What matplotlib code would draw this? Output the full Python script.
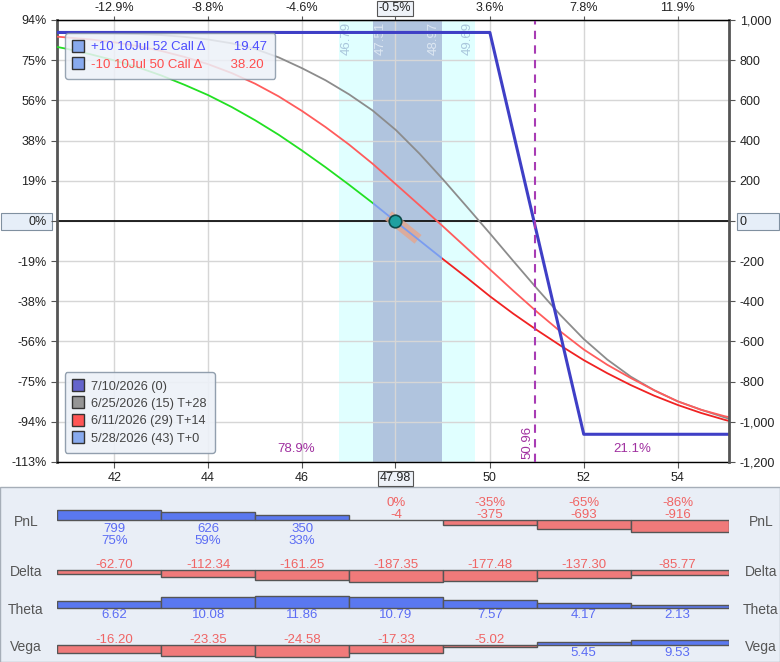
import matplotlib
matplotlib.use('Agg')
import matplotlib.pyplot as plt
from matplotlib.lines import Line2D
from matplotlib.patches import Rectangle

plt.rcParams['font.family'] = ['Liberation Sans', 'DejaVu Sans']

# ---------------- data ----------------
prices = [40.78, 41.0, 41.5, 42.0, 42.5, 43.0, 43.5, 44.0, 44.5, 45.0, 45.5, 46.0, 46.5,
          47.0, 47.5, 48.0, 48.5, 49.0, 49.5, 50.0, 50.5, 51.0, 51.5, 52.0, 52.5, 53.0,
          53.5, 54.0, 54.5, 55.0, 55.10]
t0_pnl = [866, 856, 829, 799, 765, 724, 677, 626, 567, 501, 429, 350, 267,
          180, 90, -4, -97, -190, -281, -375, -462, -543, -620, -693, -758, -817,
          -870, -916, -956, -990, -996]
t14_pnl = [917, 913, 903, 889, 870, 846, 816, 780, 736, 683, 620, 547, 467,
           380, 285, 182, 78, -27, -134, -241, -348, -452, -550, -640, -716, -782,
           -843, -898, -940, -972, -977]
t28_pnl = [937, 936, 935, 933, 930, 925, 916, 903, 884, 856, 814, 760, 700,
           630, 550, 452, 335, 207, 73, -62, -200, -336, -468, -588, -690, -775,
           -843, -898, -940, -978, -985]
exp_price = [40.78, 50.0, 52.0, 55.10]
exp_pnl = [938, 938, -1062, -1062]

current_price = 47.98
current_delta = -187.35
band_outer = (46.79, 49.69)
band_inner = (47.51, 48.97)
breakeven = 50.96
prob_below = '78.9%'
prob_above = '21.1%'

x_ticks = [42, 44, 46, 47.98, 50, 52, 54]
x_tick_labels = ['42', '44', '46', '47.98', '50', '52', '54']
top_tick_labels = ['-12.9%', '-8.8%', '-4.6%', '-0.5%', '3.6%', '7.8%', '11.9%']
y_ticks = [1000, 800, 600, 400, 200, 0, -200, -400, -600, -800, -1000, -1200]
y_pct_labels = ['94%', '75%', '56%', '38%', '19%', '0%', '-19%', '-38%', '-56%',
                '-75%', '-94%', '-113%']
y_right_labels = ['1,000', '800', '600', '400', '200', '0', '-200', '-400', '-600',
                  '-800', '-1,000', '-1,200']

pos_labels = ['+10 10Jul 52 Call \u0394        19.47', '-10 10Jul 50 Call \u0394        38.20']
date_labels = ['7/10/2026 (0)', '6/25/2026 (15) T+28', '6/11/2026 (29) T+14',
               '5/28/2026 (43) T+0']

table_prices = [42, 44, 46, 48, 50, 52, 54]
pnl_vals = [799, 626, 350, -4, -375, -693, -916]
pnl_pcts = ['75%', '59%', '33%', '0%', '-35%', '-65%', '-86%']
delta_vals = [-62.70, -112.34, -161.25, -187.35, -177.48, -137.30, -85.77]
theta_vals = [6.62, 10.08, 11.86, 10.79, 7.57, 4.17, 2.13]
vega_vals = [-16.20, -23.35, -24.58, -17.33, -5.02, 5.45, 9.53]

# ---------------- figure ----------------
W, H = 780, 662
fig = plt.figure(figsize=(W / 100, H / 100), dpi=100, facecolor='white')

def fx(px):
    return px / W

def fy(py):
    return 1 - py / H

# bottom panel background
fig.patches.append(Rectangle((0, 0), 1, 175 / H, transform=fig.transFigure,
                             fc='#e9eef6', ec='#a6aeb8', lw=1, zorder=-2))
# highlight boxes for 0 labels
fig.patches.append(Rectangle((fx(1), fy(230)), fx(51), 17 / H, transform=fig.transFigure,
                             fc='#e6eef8', ec='#8090a0', lw=0.8, zorder=-1))
fig.patches.append(Rectangle((fx(737), fy(230)), fx(42), 17 / H, transform=fig.transFigure,
                             fc='#e6eef8', ec='#8090a0', lw=0.8, zorder=-1))

ax = fig.add_axes([fx(57), fy(462), fx(672.3), 442 / H])
xlim = (prices[0], prices[-1])
ylim = (-1200, 1000)
ax.set_xlim(xlim)
ax.set_ylim(ylim)
ax.set_axisbelow(True)

ax.axvspan(*band_outer, color='#e0ffff', lw=0, zorder=0.1)
ax.axvspan(*band_inner, color='#b0c4de', lw=0, zorder=0.2)

ax.set_xticks(x_ticks)
ax.set_xticklabels(x_tick_labels)
ax.set_yticks(y_ticks)
ax.set_yticklabels(y_pct_labels)
ax.grid(True, color='#d6d6d6', lw=1)

ax.axhline(0, color='black', lw=1.2, zorder=2)

ax.plot(prices, t28_pnl, color='#8c8c8c', lw=1.3, zorder=3)
ax.plot(prices, t14_pnl, color='#ff5c5c', lw=1.3, zorder=3)

tx = [current_price - 0.14, current_price + 0.49]
ty = [current_delta * (x - current_price) for x in tx]
ax.plot(tx, ty, color='#e6a58c', lw=8, alpha=0.8, solid_capstyle='butt', zorder=3.2)

segs = [(xlim[0], band_inner[0], '#22e022'),
        (band_inner[0], band_inner[1], '#7a9cf0'),
        (band_inner[1], xlim[1], '#f02222')]
for x0, x1, c in segs:
    ln, = ax.plot(prices, t0_pnl, color=c, lw=1.3, zorder=3.5)
    ln.set_clip_path(Rectangle((x0, -5000), x1 - x0, 10000, transform=ax.transData))

ax.plot(exp_price, exp_pnl, color='#3f3fc6', lw=2.2, zorder=4)
ax.axvline(breakeven, color='#a83cb4', ls=(0, (4, 3)), lw=1.5, zorder=4)
ax.plot([current_price], [0], 'o', ms=9, mfc='#1fa0a0', mec='#0d4a4a', mew=1.2, zorder=6)

# band labels
lab_kw = dict(rotation=90, fontsize=9.5, va='top', zorder=2)
ax.text(band_outer[0] + 0.03, 990, f'{band_outer[0]:.2f}', ha='left', color='#a9c6dc', **lab_kw)
ax.text(band_inner[0] + 0.03, 990, f'{band_inner[0]:.2f}', ha='left', color='#dde7f2', **lab_kw)
ax.text(band_inner[1] - 0.03, 990, f'{band_inner[1]:.2f}', ha='right', color='#dde7f2', **lab_kw)
ax.text(band_outer[1] - 0.03, 990, f'{band_outer[1]:.2f}', ha='right', color='#a9c6dc', **lab_kw)
ax.text(breakeven - 0.04, -1185, f'{breakeven:.2f}', rotation=90, ha='right', va='bottom',
        fontsize=9.5, color='#a030a0')
ax.text(45.87, -1135, prob_below, ha='center', va='center', fontsize=9.5, color='#a030a0')
ax.text(53.03, -1135, prob_above, ha='center', va='center', fontsize=9.5, color='#a030a0')

# spines / ticks
for s in ['top', 'bottom']:
    ax.spines[s].set_color('black')
    ax.spines[s].set_linewidth(1)
ax.spines['left'].set_color('#555555')
ax.spines['left'].set_linewidth(2)
ax.spines['right'].set_visible(False)
ax.tick_params(axis='both', labelsize=9, length=4, color='#555555', labelcolor='#222222')

axr = ax.twinx()
axr.set_ylim(ylim)
axr.set_yticks(y_ticks)
axr.set_yticklabels(y_right_labels)
axr.tick_params(axis='y', labelsize=9, length=4, color='#555555', labelcolor='#222222')
for s in ['top', 'bottom', 'left']:
    axr.spines[s].set_visible(False)
axr.spines['right'].set_color('#555555')
axr.spines['right'].set_linewidth(2)

axt = ax.twiny()
axt.set_xlim(xlim)
axt.set_xticks(x_ticks)
axt.set_xticklabels(top_tick_labels)
axt.tick_params(axis='x', labelsize=9, length=3, color='#555555', labelcolor='#222222', pad=1)
for s in ['bottom', 'left', 'right']:
    axt.spines[s].set_visible(False)

box = dict(boxstyle='square,pad=0.15', fc='#eef2f8', ec='#555555', lw=0.8)
ax.get_xticklabels()[3].set_bbox(box)
axt.get_xticklabels()[3].set_bbox(box)

# legends
h_pos = [Line2D([], [], marker='s', ls='none', ms=8, mfc='#88aaee', mec='#333333', mew=1)
         for _ in pos_labels]
leg1 = axt.legend(h_pos, pos_labels, loc='upper left', bbox_to_anchor=(0.002, 0.985),
                  fontsize=9.5, handlelength=0.8, handletextpad=0.6, borderpad=0.6,
                  labelspacing=0.4, facecolor='#edf1f8', edgecolor='#8796a6',
                  framealpha=0.85, fancybox=True)
leg1.get_texts()[0].set_color('#4d4dff')
leg1.get_texts()[1].set_color('#ff4d4d')
axt.add_artist(leg1)

date_colors = ['#6464cc', '#959595', '#ff5555', '#88aaee']
h_dates = [Line2D([], [], marker='s', ls='none', ms=8, mfc=c, mec='#333333', mew=1)
           for c in date_colors]
leg2 = axt.legend(h_dates, date_labels, loc='lower left', bbox_to_anchor=(0.002, 0.006),
                  fontsize=9.2, handlelength=0.8, handletextpad=0.6, borderpad=0.65,
                  labelspacing=0.42, facecolor='#edf1f8', edgecolor='#8796a6',
                  framealpha=0.9, fancybox=True)
for t in leg2.get_texts():
    t.set_color('#444444')

# ---------------- bottom panel ----------------
ax2 = fig.add_axes([fx(57), 0, fx(672.3), 175 / H])
ax2.set_xlim(xlim)
ax2.set_ylim(H, 487)
ax2.axis('off')
ax2.patch.set_alpha(0)

edges = [xlim[0]] + [(a + b) / 2 for a, b in zip(table_prices[:-1], table_prices[1:])] + [xlim[1]]
lefts = edges[:-1]
widths = [b - a for a, b in zip(edges[:-1], edges[1:])]

blue_bar, red_bar = '#5a78f0', '#f07a7a'
blue_txt, red_txt = '#5b6cf4', '#f06464'
row_base = {'PnL': 520, 'Delta': 569.5, 'Theta': 607.5, 'Vega': 645}
rows = [('PnL', pnl_vals), ('Delta', delta_vals), ('Theta', theta_vals), ('Vega', vega_vals)]
for name, vals in rows:
    base = row_base[name]
    m = max(abs(v) for v in vals)
    hts = [-v / m * 12 for v in vals]
    cols = [blue_bar if v > 0 else red_bar for v in vals]
    ax2.bar(lefts, hts, width=widths, bottom=base, align='edge', color=cols,
            edgecolor='#555555', lw=1)
    fig.text(fx(26), fy(base + 2), name, ha='center', va='center', fontsize=10, color='#555555')
    fig.text(fx(761), fy(base + 2), name, ha='center', va='center', fontsize=10, color='#555555')

tk = dict(ha='center', va='center', fontsize=9.5)
for p, v, pc in zip(table_prices, pnl_vals, pnl_pcts):
    if v > 0:
        ax2.text(p, 528.5, f'{v}', color=blue_txt, **tk)
        ax2.text(p, 540.5, pc, color=blue_txt, **tk)
    else:
        ax2.text(p, 515, f'{v}', color=red_txt, **tk)
        ax2.text(p, 503, pc, color=red_txt, **tk)
for p, v in zip(table_prices, delta_vals):
    ax2.text(p, 565, f'{v:.2f}', color=red_txt if v < 0 else blue_txt, **tk)
for p, v in zip(table_prices, theta_vals):
    ax2.text(p, 615.5, f'{v:.2f}', color=blue_txt if v > 0 else red_txt, **tk)
for p, v in zip(table_prices, vega_vals):
    if v < 0:
        ax2.text(p, 640, f'{v:.2f}', color=red_txt, **tk)
    else:
        ax2.text(p, 653, f'{v:.2f}', color=blue_txt, **tk)

fig.savefig('out.png', dpi=100, facecolor='white')
